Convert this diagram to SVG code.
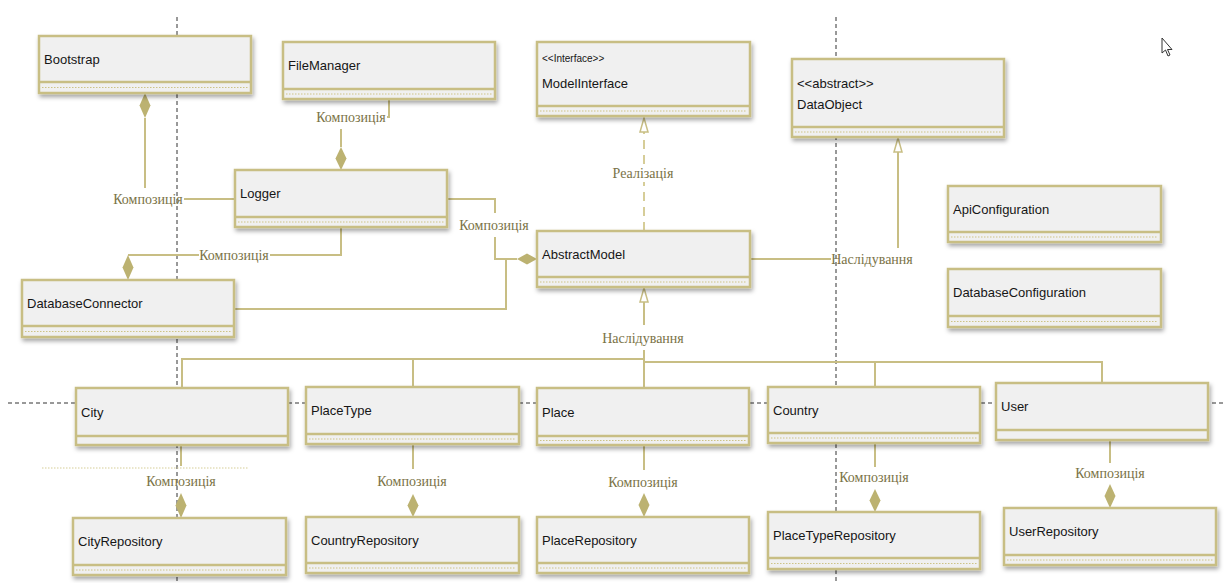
<svg xmlns="http://www.w3.org/2000/svg" width="1227" height="583" viewBox="0 0 1227 583">
<defs>
<filter id="sh" x="-5%" y="-20%" width="115%" height="160%">
<feDropShadow dx="1.5" dy="3" stdDeviation="2" flood-color="#000" flood-opacity="0.35"/>
</filter>
<style>
.box{fill:#f0f0f0;stroke:#c8be84;stroke-width:2.5}
.div{stroke:#c8be84;stroke-width:2.5}
.dot{stroke:#cdc386;stroke-width:1.2;stroke-dasharray:1.5 1.5}
.name{font-family:"Liberation Sans",Arial,sans-serif;font-size:13px;fill:#161616;dominant-baseline:central}
.st{font-family:"Liberation Sans",Arial,sans-serif;font-size:10px;fill:#161616;dominant-baseline:central}
.lbl{font-family:"Liberation Serif","Times New Roman",serif;font-size:14px;fill:#7a7246;text-anchor:middle;dominant-baseline:central}
.con{stroke:#c8be84;stroke-width:2;fill:none}
.dash{stroke:#d6cd98;stroke-width:2;fill:none;stroke-dasharray:9 6}
.dia{fill:#bcb271;stroke:none}
.tri{fill:#fff;stroke:#c8be84;stroke-width:1.5}
.grid{stroke:#333;stroke-width:1;stroke-dasharray:4 3;fill:none}
</style>
</defs>
<rect width="1227" height="583" fill="#fff"/>
<g id="guides">
<line class="grid" x1="177" y1="17" x2="177" y2="583"/>
<line class="grid" x1="836" y1="17" x2="836" y2="583"/>
<line class="grid" x1="8" y1="403" x2="1225" y2="403"/>
<line x1="42" y1="468" x2="249" y2="468" stroke="#d6cd98" stroke-width="1.2" stroke-dasharray="1.5 1.5"/>
</g>
<g id="connectors">
<polyline class="con" points="145,118 145,188"/>
<polyline class="con" points="184,199 235,199"/>
<path class="dia" d="M145 93 L150.5 105.5 L145 118 L139.5 105.5 Z"/>
<text class="lbl" x="148" y="199">Композиція</text>
<polyline class="con" points="389,99 389,117 387,117"/>
<polyline class="con" points="341,129 341,147"/>
<path class="dia" d="M341 147 L346.5 158.5 L341 170 L335.5 158.5 Z"/>
<text class="lbl" x="351" y="117">Композиція</text>
<polyline class="con" points="341,227 341,255 270,255"/>
<polyline class="con" points="199,255 128,255 128,255"/>
<path class="dia" d="M128 255 L133.5 267.5 L128 280 L122.5 267.5 Z"/>
<text class="lbl" x="234" y="255">Композиція</text>
<polyline class="con" points="447,199 495,199 495,213"/>
<polyline class="con" points="495,237 495,259 517,259"/>
<polyline class="con" points="234,309 506,309 506,259"/>
<path class="dia" d="M517 259 L527 253.5 L537 259 L527 264.5 Z"/>
<text class="lbl" x="494" y="225">Композиція</text>
<line class="dash" x1="644" y1="231" x2="644" y2="182"/>
<line class="dash" x1="644" y1="164" x2="644" y2="132"/>
<path class="tri" d="M644 118 L648 132 L640 132 Z"/>
<text class="lbl" x="643" y="173">Реалізація</text>
<polyline class="con" points="750,259 831,259"/>
<polyline class="con" points="898,248 898,152"/>
<path class="tri" d="M898 138 L902 152 L894 152 Z"/>
<text class="lbl" x="872" y="259">Наслідування</text>
<polyline class="con" points="644,302 644,325"/>
<path class="tri" d="M644 288 L648 302 L640 302 Z"/>
<text class="lbl" x="643" y="338">Наслідування</text>
<polyline class="con" points="644,350 644,388"/>
<polyline class="con" points="182,388 182,359 644,359"/>
<polyline class="con" points="413,359 413,387"/>
<polyline class="con" points="644,362 1102,362 1102,383"/>
<polyline class="con" points="875,362 875,387"/>
<line class="con" x1="181" y1="445" x2="181" y2="466"/>
<path class="dia" d="M181 493 L186.5 505.5 L181 518 L175.5 505.5 Z"/>
<text class="lbl" x="181" y="481">Композиція</text>
<line class="con" x1="413" y1="444" x2="413" y2="469"/>
<path class="dia" d="M413 494 L418.5 505.5 L413 517 L407.5 505.5 Z"/>
<text class="lbl" x="412" y="481">Композиція</text>
<line class="con" x1="644" y1="445" x2="644" y2="470"/>
<path class="dia" d="M644 493 L649.5 505 L644 517 L638.5 505 Z"/>
<text class="lbl" x="643" y="482">Композиція</text>
<line class="con" x1="875" y1="443" x2="875" y2="467"/>
<path class="dia" d="M875 489 L880.5 500.5 L875 512 L869.5 500.5 Z"/>
<text class="lbl" x="874" y="477">Композиція</text>
<line class="con" x1="1110" y1="440" x2="1110" y2="463"/>
<path class="dia" d="M1110 484 L1115.5 496 L1110 508 L1104.5 496 Z"/>
<text class="lbl" x="1110" y="473">Композиція</text>
</g>
<g id="bootstrap">
<rect class="box" x="39" y="36" width="212" height="57" filter="url(#sh)"/>
<line class="div" x1="39" y1="82" x2="251" y2="82"/>
<line class="dot" x1="42" y1="87.5" x2="248" y2="87.5"/>
<text class="name" x="44" y="59">Bootstrap</text>
</g>
<g id="filemanager">
<rect class="box" x="283" y="42" width="212" height="57" filter="url(#sh)"/>
<line class="div" x1="283" y1="89" x2="495" y2="89"/>
<line class="dot" x1="286" y1="94" x2="492" y2="94"/>
<text class="name" x="288" y="65.5">FileManager</text>
</g>
<g id="logger">
<rect class="box" x="235" y="170" width="212" height="57" filter="url(#sh)"/>
<line class="div" x1="235" y1="217" x2="447" y2="217"/>
<line class="dot" x1="238" y1="222" x2="444" y2="222"/>
<text class="name" x="240" y="193.5">Logger</text>
</g>
<g id="databaseconnector">
<rect class="box" x="22" y="280" width="212" height="57" filter="url(#sh)"/>
<line class="div" x1="22" y1="326" x2="234" y2="326"/>
<line class="dot" x1="25" y1="331.5" x2="231" y2="331.5"/>
<text class="name" x="27" y="303">DatabaseConnector</text>
</g>
<g id="modelinterface">
<rect class="box" x="537" y="42" width="213" height="74" filter="url(#sh)"/>
<line class="div" x1="537" y1="106" x2="750" y2="106"/>
<line class="dot" x1="540" y1="111" x2="747" y2="111"/>
<text class="st" x="542" y="58">&lt;&lt;Interface&gt;&gt;</text>
<text class="name" x="542" y="83">ModelInterface</text>
</g>
<g id="dataobject">
<rect class="box" x="792" y="59" width="212" height="78" filter="url(#sh)"/>
<line class="div" x1="792" y1="127" x2="1004" y2="127"/>
<line class="dot" x1="795" y1="132" x2="1001" y2="132"/>
<text class="name" x="797" y="83">&lt;&lt;abstract&gt;&gt;</text>
<text class="name" x="797" y="104">DataObject</text>
</g>
<g id="apiconfiguration">
<rect class="box" x="948" y="186" width="213" height="56" filter="url(#sh)"/>
<line class="div" x1="948" y1="232" x2="1161" y2="232"/>
<line class="dot" x1="951" y1="237" x2="1158" y2="237"/>
<text class="name" x="953" y="209">ApiConfiguration</text>
</g>
<g id="databaseconfiguration">
<rect class="box" x="948" y="269" width="213" height="58" filter="url(#sh)"/>
<line class="div" x1="948" y1="316" x2="1161" y2="316"/>
<line class="dot" x1="951" y1="321.5" x2="1158" y2="321.5"/>
<text class="name" x="953" y="292.5">DatabaseConfiguration</text>
</g>
<g id="abstractmodel">
<rect class="box" x="537" y="231" width="213" height="56" filter="url(#sh)"/>
<line class="div" x1="537" y1="277" x2="750" y2="277"/>
<line class="dot" x1="540" y1="282" x2="747" y2="282"/>
<text class="name" x="542" y="254">AbstractModel</text>
</g>
<g id="city">
<rect class="box" x="76" y="388" width="212" height="57" filter="url(#sh)"/>
<line class="div" x1="76" y1="436" x2="288" y2="436"/>
<text class="name" x="81" y="412">City</text>
</g>
<g id="placetype">
<rect class="box" x="306" y="387" width="213" height="57" filter="url(#sh)"/>
<line class="div" x1="306" y1="434" x2="519" y2="434"/>
<line class="dot" x1="309" y1="439" x2="516" y2="439"/>
<text class="name" x="311" y="410.5">PlaceType</text>
</g>
<g id="place">
<rect class="box" x="537" y="388" width="212" height="57" filter="url(#sh)"/>
<line class="div" x1="537" y1="436" x2="749" y2="436"/>
<line class="dot" x1="540" y1="440.5" x2="746" y2="440.5"/>
<text class="name" x="542" y="412">Place</text>
</g>
<g id="country">
<rect class="box" x="768" y="387" width="212" height="56" filter="url(#sh)"/>
<line class="div" x1="768" y1="433" x2="980" y2="433"/>
<line class="dot" x1="771" y1="438" x2="977" y2="438"/>
<text class="name" x="773" y="410">Country</text>
</g>
<g id="user">
<rect class="box" x="996" y="383" width="212" height="57" filter="url(#sh)"/>
<line class="div" x1="996" y1="430" x2="1208" y2="430"/>
<text class="name" x="1001" y="406.5">User</text>
</g>
<g id="cityrepository">
<rect class="box" x="73" y="518" width="213" height="57" filter="url(#sh)"/>
<line class="div" x1="73" y1="565" x2="286" y2="565"/>
<line class="dot" x1="76" y1="570" x2="283" y2="570"/>
<text class="name" x="78" y="541.5">CityRepository</text>
</g>
<g id="countryrepository">
<rect class="box" x="306" y="517" width="213" height="56" filter="url(#sh)"/>
<line class="div" x1="306" y1="563" x2="519" y2="563"/>
<line class="dot" x1="309" y1="568" x2="516" y2="568"/>
<text class="name" x="311" y="540">CountryRepository</text>
</g>
<g id="placerepository">
<rect class="box" x="537" y="517" width="212" height="56" filter="url(#sh)"/>
<line class="div" x1="537" y1="563" x2="749" y2="563"/>
<line class="dot" x1="540" y1="568" x2="746" y2="568"/>
<text class="name" x="542" y="540">PlaceRepository</text>
</g>
<g id="placetyperepository">
<rect class="box" x="768" y="512" width="212" height="57" filter="url(#sh)"/>
<line class="div" x1="768" y1="558" x2="980" y2="558"/>
<line class="dot" x1="771" y1="563.5" x2="977" y2="563.5"/>
<text class="name" x="773" y="535">PlaceTypeRepository</text>
</g>
<g id="userrepository">
<rect class="box" x="1004" y="508" width="212" height="57" filter="url(#sh)"/>
<line class="div" x1="1004" y1="555" x2="1216" y2="555"/>
<line class="dot" x1="1007" y1="560" x2="1213" y2="560"/>
<text class="name" x="1009" y="531.5">UserRepository</text>
</g>
<g id="cursor">
<path d="M1162 38 L1162 53 L1165.5 50 L1168 56 L1170 55 L1167.5 49.5 L1172 49.5 Z" fill="#fff" stroke="#333" stroke-width="1"/>
</g>
</svg>
